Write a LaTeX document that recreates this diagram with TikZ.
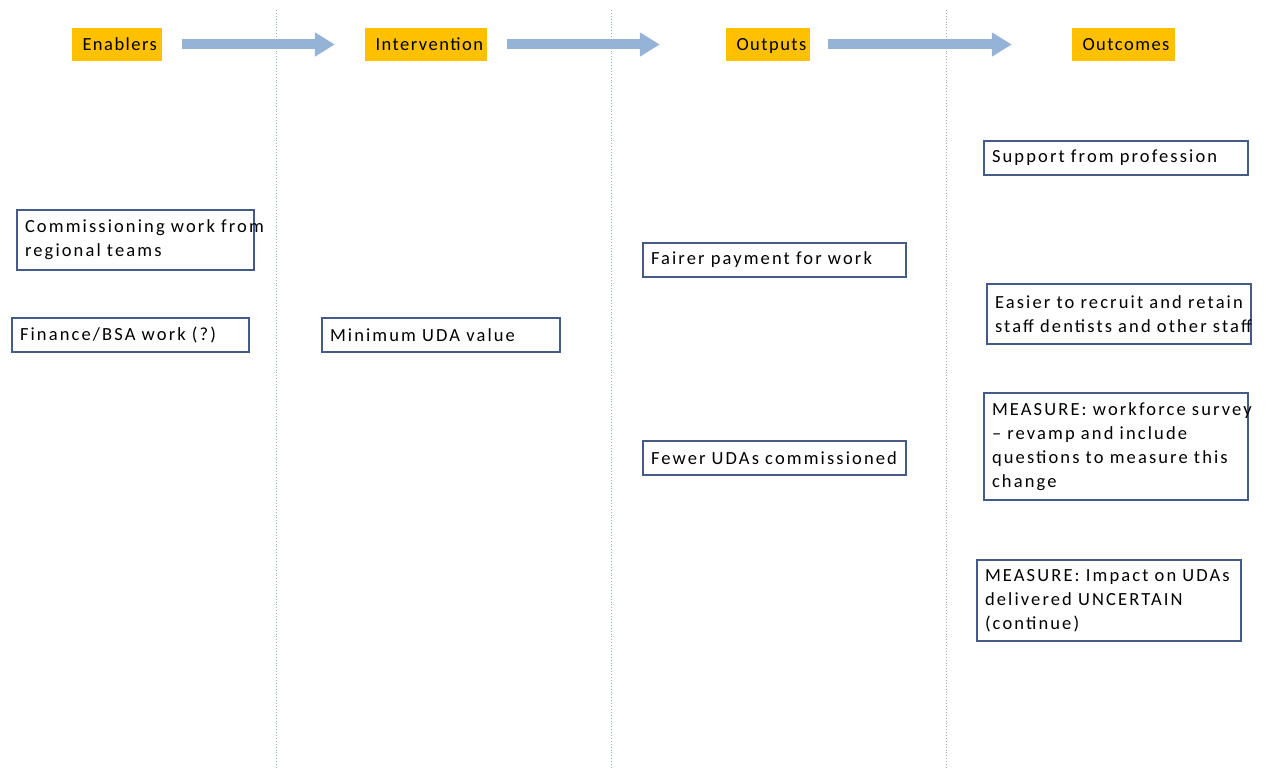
\documentclass[tikz,border=0pt]{standalone}
\usepackage{fontspec}
\setmainfont[LetterSpace=8]{Carlito}
\newfontfamily\boxfont[LetterSpace=11.5]{Carlito}
\usetikzlibrary{arrows.meta}
\definecolor{hdrgold}{RGB}{255,192,0}
\definecolor{flowblue}{RGB}{149,179,215}
\definecolor{boxedge}{RGB}{68,90,135}
\definecolor{divblue}{RGB}{150,172,210}
\begin{document}
\begin{tikzpicture}[x=1pt,y=-1pt,
  every node/.style={font=\fontsize{18.5}{24}\selectfont},
  header/.style={fill=hdrgold,minimum height=33pt,inner xsep=10.5pt,inner ysep=0pt,align=left,text height=15.5pt,text depth=3pt},
  flow/.style={flowblue,line width=10pt,-{Triangle[length=20pt,width=23pt]}},
  stagebox/.style={draw=boxedge,line width=1.2pt,fill=white,align=left,inner xsep=8pt,inner ysep=0pt,font=\boxfont\fontsize{18.5}{24}\selectfont},
  divider/.style={divblue,dotted,line width=0.9pt}]
\useasboundingbox (0,0) rectangle (1270,770);
% column dividers
\foreach \x in {276,611,946} \draw[divider] (\x,10) -- (\x,770);
% stage headers
\node[header,text width=69pt] (enab) at (117,44.5) {Enablers};
\node[header,text width=101pt] (interv) at (426,44.5) {Intervention};
\node[header,text width=63pt] (outp) at (768,44.5) {Outputs};
\node[header,text width=82pt] (outc) at (1123.5,44.5) {Outcomes};
\draw[flow,shorten <=20pt,shorten >=30pt] (enab.east) -- (interv.west);
\draw[flow,shorten <=20pt,shorten >=66pt] (interv.east) -- (outp.west);
\draw[flow,shorten <=18pt,shorten >=60pt] (outp.east) -- (outc.west);
% enablers
\node[stagebox,text width=221pt,minimum height=60pt] (comm) at (135.5,240) {\mbox{Commissioning work from}\\regional teams};
\node[stagebox,text width=221pt,minimum height=34pt] (fin) at (130.5,335) {Finance/BSA work (?)};
% intervention
\node[stagebox,text width=222pt,minimum height=34pt] (minuda) at (441,335) {Minimum UDA value};
% outputs
\node[stagebox,text width=247pt,minimum height=34pt] (fair) at (774.5,260) {Fairer payment for work};
\node[stagebox,text width=247pt,minimum height=34pt] (fewer) at (774.5,458) {\mbox{Fewer UDAs commissioned}};
% outcomes
\node[stagebox,text width=248pt,minimum height=34pt] (supp) at (1116,158) {Support from profession};
\node[stagebox,text width=248pt,minimum height=60pt] (easier) at (1119,314) {\mbox{Easier to recruit and retain}\\\mbox{staff dentists and other staff}};
\node[stagebox,text width=248pt,minimum height=107pt] (msurvey) at (1116,446.5) {\mbox{MEASURE: workforce survey}\\– revamp and include\\questions to measure this\\change};
\node[stagebox,text width=248pt,minimum height=81pt] (mimpact) at (1109,600.5) {MEASURE: Impact on UDAs\\delivered UNCERTAIN\\(continue)};
\end{tikzpicture}
\end{document}
